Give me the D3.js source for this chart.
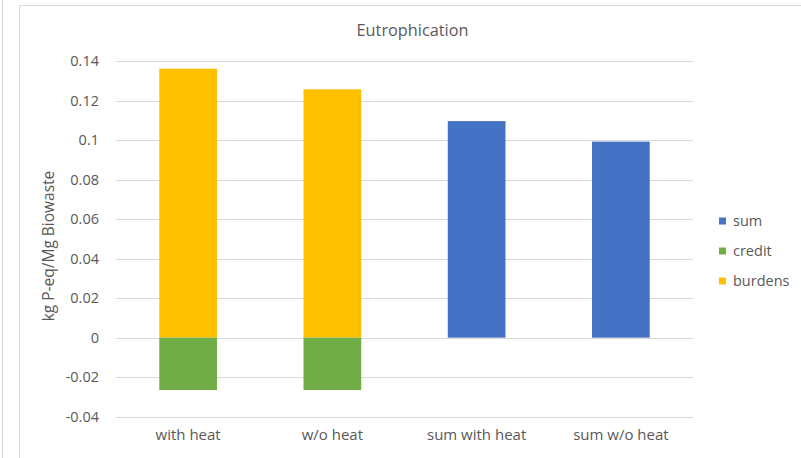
<!DOCTYPE html>
<html><head><meta charset="utf-8">
<script src="https://cdn.jsdelivr.net/npm/d3@7"></script>
<style>body{margin:0;background:#fff}svg{display:block}text{font-family:"Open Sans",sans-serif;fill:#595959}</style>
</head><body>
<svg id="c" width="801" height="458"></svg>
<script>
const categories = ["with heat", "w/o heat", "sum with heat", "sum w/o heat"];
const burdens = [0.1361, 0.1257, 0, 0];
const credit = [-0.0265, -0.0265, 0, 0];
const sum = [0, 0, 0.1096, 0.0992];
const yTicks = [-0.04, -0.02, 0, 0.02, 0.04, 0.06, 0.08, 0.1, 0.12, 0.14];
const seriesNames = ["sum", "credit", "burdens"];
const colors = {sum: "#4472C4", credit: "#70AD47", burdens: "#FFC000"};

const svg = d3.select("#c");
// frame
svg.append("line").attr("x1",2.5).attr("x2",2.5).attr("y1",0).attr("y2",458).attr("stroke","#d9d9d9");
svg.append("rect").attr("x",19.5).attr("y",5.5).attr("width",800).attr("height",460).attr("fill","#fff").attr("stroke","#d9d9d9");

const x = d3.scaleBand().domain(categories).range([116, 693]).paddingInner(0.6).paddingOuter(0.3);
const y = d3.scaleLinear().domain([-0.04, 0.14]).range([416.7, 61]);

// gridlines
svg.append("g").selectAll("line").data(yTicks).join("line")
  .attr("x1",116).attr("x2",693).attr("y1",d=>Math.round(y(d))+0.5).attr("y2",d=>Math.round(y(d))+0.5)
  .attr("stroke","#d9d9d9").attr("stroke-width",1);

// y tick labels
const yAxis = d3.axisLeft(y).tickValues(yTicks).tickSize(0).tickPadding(0).tickFormat(d=>String(+d.toFixed(2)));
const ga = svg.append("g").attr("transform","translate(99,0)").call(yAxis);
ga.select(".domain").remove();
ga.selectAll("text").attr("font-size",14.5).attr("fill","#595959").attr("font-family","'Open Sans',sans-serif");

// bars
const data = categories.map((c,i)=>({c, sum:sum[i], credit:credit[i], burdens:burdens[i]}));
const g = svg.append("g");
["burdens","credit","sum"].forEach(k=>{
  g.selectAll("rect."+k).data(data.filter(d=>d[k]!==0)).join("rect").attr("class",k)
    .attr("x",d=>x(d.c)).attr("width",x.bandwidth())
    .attr("y",d=>y(Math.max(0,d[k]))).attr("height",d=>Math.abs(y(d[k])-y(0)))
    .attr("fill",colors[k]);
});

// x labels
const xAxis = d3.axisBottom(x).tickSize(0).tickPadding(0);
const gx = svg.append("g").attr("transform","translate(0,429)").call(xAxis);
gx.select(".domain").remove();
gx.selectAll("text").attr("font-size",15).attr("fill","#595959").attr("font-family","'Open Sans',sans-serif");

// title
svg.append("text").attr("x",412.5).attr("y",36).attr("text-anchor","middle").attr("font-size",16.3).text("Eutrophication");
// y label
svg.append("text").attr("transform","translate(54,246) rotate(-90)").attr("text-anchor","middle").attr("font-size",15.5).text("kg P-eq/Mg Biowaste");

// legend
const lg = svg.append("g");
seriesNames.forEach((s,i)=>{
  const cy = 221 + i*30;
  lg.append("rect").attr("x",719).attr("y",cy-3.5).attr("width",7).attr("height",7).attr("fill",colors[s]);
  lg.append("text").attr("x",733).attr("y",cy+5).attr("font-size",14.5).text(s);
});
</script>
</body></html>
